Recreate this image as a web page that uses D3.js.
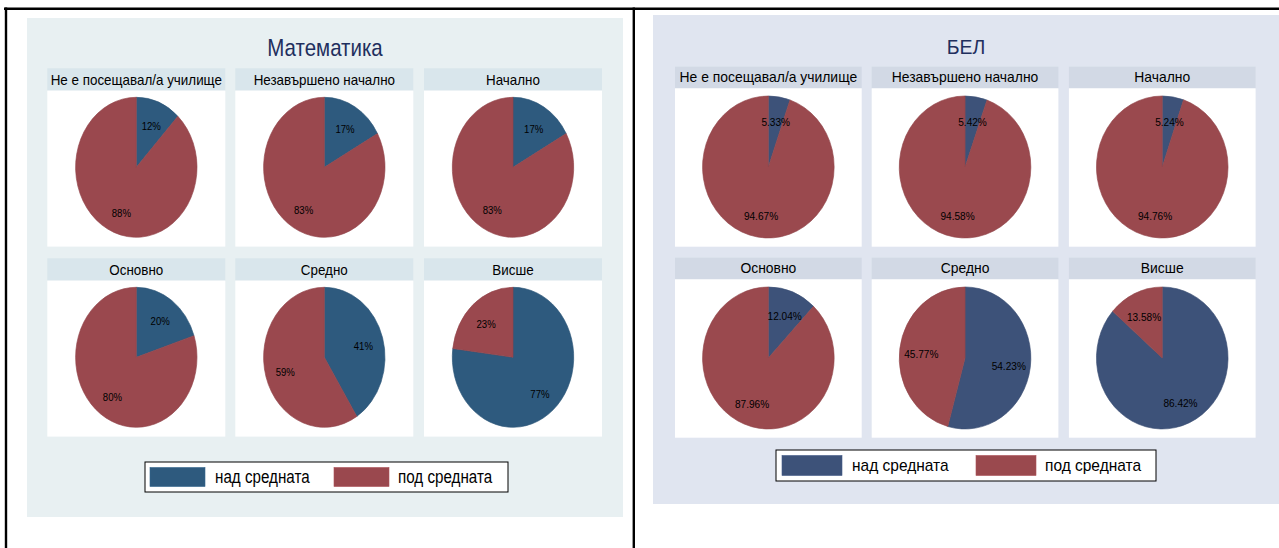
<!DOCTYPE html>
<html>
<head>
<meta charset="utf-8">
<script src="https://cdn.jsdelivr.net/npm/d3@7"></script>
<style>
  html, body { margin: 0; padding: 0; background: #ffffff; }
  svg { display: block; font-family: "Liberation Sans", Arial, sans-serif; }
</style>
</head>
<body>
<svg id="chart" width="1279" height="548"></svg>
<script>
// ---------------- DATA ----------------
const categories = ["Не е посещавал/а училище", "Незавършено начално", "Начално", "Основно", "Средно", "Висше"];
const seriesNames = ["над средната", "под средната"];
const panelTitles = ["Математика", "БЕЛ"];
const mathAbove = [12, 17, 17, 20, 41, 77];
const mathBelow = [88, 83, 83, 80, 59, 23];
const belAbove = [5.33, 5.42, 5.24, 12.04, 54.23, 86.42];
const belBelow = [94.67, 94.58, 94.76, 87.96, 45.77, 13.58];

// ---------------- LAYOUT / STYLE ----------------
const panels = [
  {
    title: panelTitles[0], above: mathAbove, below: mathBelow,
    fmt: d => d3.format(".0f")(d) + "%",
    bg: "#e8f0f2", band: "#d9e6ec", blue: "#2e5a7e", red: "#9a484e", titleColor: "#1f2f5e",
    x0: 27, y0: 18, x1: 623, y1: 517,
    titleX: 325, titleY: 56, titleSize: 20.5, sy: 1.15,
    colX: [47.3, 235.3, 424], colW: 178, rowY: [68.3, 258.3], bandH: 22.3, plotH: 156,
    pieDy: 99, rx: 60.7, ry: 70, headSize: 13.4, labSize: 9.6,
    leg: { x: 145, y: 462, w: 363, h: 30, swX: [150, 334], swW: 55, swH: 19, txX: [215, 398], size: 15.2 }
  },
  {
    title: panelTitles[1], above: belAbove, below: belBelow,
    fmt: d => d3.format(".2f")(d) + "%",
    bg: "#e0e5f0", band: "#d2d9e5", blue: "#3d5279", red: "#9a494e", titleColor: "#1f2f5e",
    x0: 653, y0: 15, x1: 1279, y1: 504,
    titleX: 966, titleY: 54, titleSize: 19.5, sy: 1.08,
    colX: [675, 871.7, 1068.9], colW: 186.7, rowY: [66.7, 257.7], bandH: 21.6, plotH: 158.4,
    pieDy: 100.3, rx: 65.8, ry: 71, headSize: 13.9, labSize: 10.1,
    leg: { x: 776, y: 450, w: 380, h: 31, swX: [782, 976], swW: 60, swH: 20, txX: [852, 1045], size: 15.5 }
  }
];

const svg = d3.select("#chart");

// outer frame lines
svg.append("line").attr("x1", 4).attr("x2", 1279).attr("y1", 8.7).attr("y2", 8.7)
  .attr("stroke", "#000").attr("stroke-width", 2.6);
svg.append("line").attr("x1", 6).attr("x2", 6).attr("y1", 7.5).attr("y2", 548)
  .attr("stroke", "#000").attr("stroke-width", 2.4);
svg.append("line").attr("x1", 633.8).attr("x2", 633.8).attr("y1", 7.5).attr("y2", 548)
  .attr("stroke", "#000").attr("stroke-width", 2.4);

function stretchedText(g, x, y, txt, size, sy, opts = {}) {
  return g.append("text")
    .attr("transform", `translate(${x},${y}) scale(1,${sy})`)
    .attr("text-anchor", opts.anchor || "middle")
    .attr("font-size", size)
    .attr("fill", opts.fill || "#000")
    .text(txt);
}

const pie = d3.pie().sort(null).value(d => d);

panels.forEach(p => {
  const g = svg.append("g");
  g.append("rect").attr("x", p.x0).attr("y", p.y0)
    .attr("width", p.x1 - p.x0).attr("height", p.y1 - p.y0).attr("fill", p.bg);

  stretchedText(g, p.titleX, p.titleY, p.title, p.titleSize, p.sy, { fill: p.titleColor });

  const colors = [p.blue, p.red];
  const arc = d3.arc().innerRadius(0).outerRadius(p.rx);

  categories.forEach((cat, i) => {
    const cx0 = p.colX[i % 3];
    const ry0 = p.rowY[Math.floor(i / 3)];
    const cell = g.append("g");
    cell.append("rect").attr("x", cx0).attr("y", ry0).attr("width", p.colW).attr("height", p.bandH)
      .attr("fill", p.band);
    cell.append("rect").attr("x", cx0).attr("y", ry0 + p.bandH).attr("width", p.colW).attr("height", p.plotH)
      .attr("fill", "#ffffff");
    stretchedText(cell, cx0 + p.colW / 2, ry0 + p.bandH - 6, cat, p.headSize, p.sy);

    const cx = cx0 + p.colW / 2, cy = ry0 + p.pieDy;
    const vals = [p.above[i], p.below[i]];
    const arcs = pie(vals);
    const pg = cell.append("g").attr("transform", `translate(${cx},${cy}) scale(1,${p.ry / p.rx})`);
    pg.selectAll("path").data(arcs).join("path")
      .attr("d", arc)
      .attr("fill", (d, k) => colors[k])
      .attr("stroke", (d, k) => d3.color(colors[k]).darker(0.15))
      .attr("stroke-width", 0.6);

    arcs.forEach(a => {
      const m = (a.startAngle + a.endAngle) / 2;
      const lx = cx + 0.67 * p.rx * Math.sin(m);
      const ly = cy - 0.67 * p.ry * Math.cos(m) + 2;
      stretchedText(cell, lx, ly + p.labSize * 0.36 * p.sy, p.fmt(a.data), p.labSize, p.sy);
    });
  });

  // legend
  const L = p.leg;
  const lg = g.append("g");
  lg.append("rect").attr("x", L.x).attr("y", L.y).attr("width", L.w).attr("height", L.h)
    .attr("fill", "#ffffff").attr("stroke", "#000").attr("stroke-width", 1);
  seriesNames.forEach((s, k) => {
    lg.append("rect").attr("x", L.swX[k]).attr("y", L.y + (L.h - L.swH) / 2)
      .attr("width", L.swW).attr("height", L.swH).attr("fill", colors[k])
      .attr("stroke", d3.color(colors[k]).brighter(0.3)).attr("stroke-width", 0.6);
    stretchedText(lg, L.txX[k], L.y + L.h / 2 + L.size * 0.35 * p.sy, s, L.size, p.sy, { anchor: "start" });
  });
});
</script>
</body>
</html>
